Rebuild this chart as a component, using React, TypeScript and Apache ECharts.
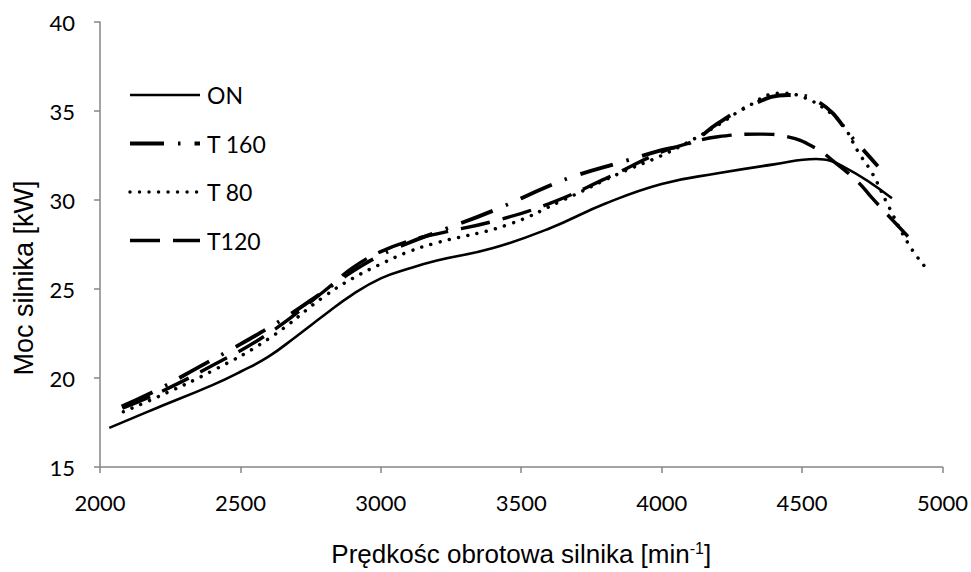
import React, { useEffect, useRef } from "react";
import * as echarts from "echarts";

const seriesNames = ["ON", "T 160", "T 80", "T120"];

const onData: [number, number][] = [
  [2033, 17.2], [2200, 18.3], [2400, 19.6], [2500, 20.35], [2600, 21.2], [2700, 22.35],
  [2800, 23.55], [2900, 24.7], [3000, 25.6], [3100, 26.15], [3200, 26.6], [3400, 27.3],
  [3600, 28.4], [3800, 29.8], [4000, 30.9], [4200, 31.5], [4400, 32.0], [4550, 32.3],
  [4650, 31.85], [4820, 30.1],
];

const t160Data: [number, number][] = [
  [2077, 18.4], [2200, 19.3], [2350, 20.6], [2500, 21.9], [2650, 23.3], [2800, 24.9],
  [2900, 26.0], [3000, 26.9], [3100, 27.6], [3200, 28.2], [3400, 29.4], [3600, 30.8],
  [3700, 31.4], [3850, 32.1], [4000, 32.8], [4100, 33.2], [4200, 34.3], [4300, 35.2],
  [4450, 35.9], [4560, 35.5], [4690, 33.3], [4770, 31.9],
];

const t80Data: [number, number][] = [
  [2083, 18.1], [2200, 18.9], [2400, 20.4], [2600, 22.2], [2800, 24.6], [2900, 25.6],
  [3000, 26.4], [3100, 27.1], [3200, 27.6], [3450, 28.6], [3650, 30.0], [3850, 31.5],
  [4000, 32.5], [4100, 33.3], [4200, 34.2], [4300, 35.2], [4420, 36.0], [4500, 35.8],
  [4600, 34.9], [4650, 34.1], [4700, 32.7], [4750, 31.5], [4800, 29.9], [4880, 27.5],
  [4940, 26.2],
];

const t120Data: [number, number][] = [
  [2080, 18.3], [2200, 19.1], [2400, 20.7], [2600, 22.5], [2800, 24.9], [2900, 26.2],
  [3000, 27.1], [3100, 27.7], [3200, 28.1], [3400, 28.8], [3600, 29.8], [3800, 31.2],
  [4000, 32.7], [4100, 33.2], [4200, 33.55], [4350, 33.7], [4450, 33.55], [4550, 32.9],
  [4610, 32.2], [4700, 31.0], [4750, 30.1], [4880, 27.9],
];

const xTicks = { min: 2000, max: 5000, interval: 500 };
const yTicks = { min: 15, max: 40, interval: 5 };
const yTitle = "Moc silnika [kW]";

const lineStyles = [
  { width: 2.6, dash: null as number[] | null, cap: "butt" },
  { width: 3.8, dash: [34, 14, 2.5, 14], cap: "butt" },
  { width: 3.5, dash: [0.01, 9.5], cap: "round" },
  { width: 3.4, dash: [30, 13], cap: "butt" },
];

export default function App() {
  const ref = useRef<HTMLDivElement>(null);
  useEffect(() => {
    if (!ref.current) return;
    const chart = echarts.init(ref.current, null, { renderer: "svg" });
    const axisColor = "#868686";
    const tickFont = { fontFamily: "Lato", fontSize: 22, color: "#000" };
    const datasets = [onData, t160Data, t80Data, t120Data];

    const legendTop = 95;
    const legendGap = 48.5;
    const graphics: any[] = [];
    seriesNames.forEach((name, i) => {
      const y = legendTop + i * legendGap;
      const ls = lineStyles[i];
      graphics.push({
        type: "line",
        shape: { x1: 130, y1: y, x2: 200, y2: y },
        style: {
          stroke: "#000",
          lineWidth: ls.width,
          lineDash: ls.dash || undefined,
          lineCap: ls.cap,
        },
        silent: true,
      });
      graphics.push({
        type: "text",
        x: 207,
        y: y,
        style: {
          text: name,
          fontFamily: "Lato",
          fontSize: 23,
          fill: "#000",
          verticalAlign: "middle",
          align: "left",
        },
        silent: true,
      });
    });
    graphics.push({
      type: "text",
      x: 24,
      y: 278,
      rotation: Math.PI / 2,
      style: {
        text: yTitle,
        fontFamily: "Liberation Sans",
        fontSize: 27,
        fill: "#000",
        align: "center",
        verticalAlign: "middle",
      },
      silent: true,
    });

    chart.setOption({
      animation: false,
      backgroundColor: "#fff",
      grid: { left: 100, right: 28, top: 22, bottom: 87, containLabel: false },
      graphic: graphics,
      xAxis: {
        type: "value",
        min: xTicks.min,
        max: xTicks.max,
        interval: xTicks.interval,
        name: "Prędkośc obrotowa silnika [min{sup|-1}]",
        nameLocation: "middle",
        nameGap: 73,
        nameTextStyle: {
          fontFamily: "Liberation Sans",
          fontSize: 26,
          color: "#000",
          rich: {
            sup: {
              fontFamily: "Liberation Sans",
              fontSize: 16,
              verticalAlign: "top",
              padding: [0, 0, 12, 0],
              color: "#000",
            },
          },
        },
        axisLine: { show: true, lineStyle: { color: axisColor, width: 1.5 } },
        axisTick: { show: true, inside: false, length: 6, lineStyle: { color: axisColor, width: 1.5 } },
        axisLabel: { ...tickFont, margin: 24, formatter: (v: number) => String(v) },
        splitLine: { show: false },
      },
      yAxis: {
        type: "value",
        min: yTicks.min,
        max: yTicks.max,
        interval: yTicks.interval,
        axisLine: { show: true, lineStyle: { color: axisColor, width: 1.5 } },
        axisTick: { show: true, inside: false, length: 6, lineStyle: { color: axisColor, width: 1.5 } },
        axisLabel: { ...tickFont, margin: 25, formatter: (v: number) => String(v) },
        splitLine: { show: false },
      },
      series: seriesNames.map((name, i) => ({
        name,
        type: "line",
        data: datasets[i],
        smooth: 0.45,
        symbol: "none",
        lineStyle: {
          color: "#000",
          width: lineStyles[i].width,
          type: lineStyles[i].dash || "solid",
          cap: lineStyles[i].cap,
        },
        itemStyle: { color: "#000" },
      })),
    });
    return () => chart.dispose();
  }, []);
  return (
    <div
      ref={ref}
      style={{ position: "fixed", left: 0, top: 0, width: 971, height: 572, background: "#fff" }}
    />
  );
}
